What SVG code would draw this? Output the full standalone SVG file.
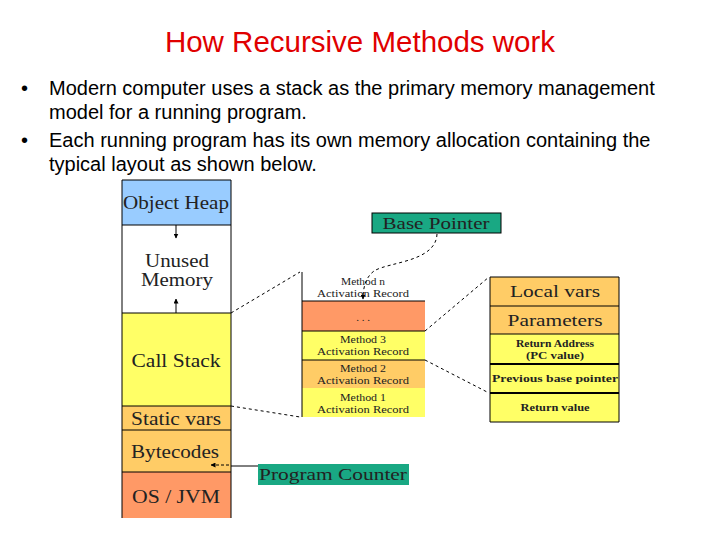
<svg xmlns="http://www.w3.org/2000/svg" width="720" height="540" viewBox="0 0 720 540">
<style>
.title{font-family:"Liberation Sans",Arial,sans-serif;font-size:29.5px;fill:#E00000}
.bul{font-family:"Liberation Sans",Arial,sans-serif;font-size:20px;fill:#000}
.big{font-family:"Liberation Serif","Times New Roman",serif;font-size:18px;fill:#222}
.mid{font-family:"Liberation Serif","Times New Roman",serif;font-size:16px;fill:#222}
.sm{font-family:"Liberation Serif","Times New Roman",serif;font-size:11px;fill:#222}
.smb{font-family:"Liberation Serif","Times New Roman",serif;font-size:11px;font-weight:bold;fill:#222}
.ln{stroke:#000;stroke-width:1;fill:none}
.dash{stroke:#000;stroke-width:1;fill:none;stroke-dasharray:3,3}
</style>
<defs>
<marker id="ah" viewBox="0 0 10 10" refX="9" refY="5" markerWidth="5" markerHeight="5" orient="auto-start-reverse">
<path d="M0,0 L10,5 L0,10 z" fill="#000"/>
</marker>
</defs>
<rect width="720" height="540" fill="#fff"/>
<text class="title" x="360" y="52" text-anchor="middle">How Recursive Methods work</text>
<g id="bullets">
<text class="bul" x="21" y="95">•</text>
<text class="bul" x="49" y="95">Modern computer uses a stack as the primary memory management</text>
<text class="bul" x="49" y="119">model for a running program.</text>
<text class="bul" x="21" y="147">•</text>
<text class="bul" x="49" y="147">Each running program has its own memory allocation containing the</text>
<text class="bul" x="49" y="171">typical layout as shown below.</text>
</g>
<g id="memory-layout">
<rect x="122" y="180" width="109" height="45" fill="#99CCFF"/>
<rect x="122" y="225" width="109" height="88" fill="#FFFFFF"/>
<rect x="122" y="313" width="109" height="93" fill="#FFFF66"/>
<rect x="122" y="406" width="109" height="24" fill="#FFCC66"/>
<rect x="122" y="430" width="109" height="42" fill="#FFCC66"/>
<rect x="122" y="472" width="109" height="46" fill="#FF9966"/>
<path class="ln" d="M122,180 V518 M231,180 V518 M122,180 H231 M122,225 H231 M122,313 H231 M122,406 H231 M122,430 H231 M122,472 H231"/>
<text class="big" x="176" y="209" text-anchor="middle" textLength="106" lengthAdjust="spacingAndGlyphs">Object Heap</text>
<text class="big" x="177" y="267" text-anchor="middle" textLength="64" lengthAdjust="spacingAndGlyphs">Unused</text>
<text class="big" x="177" y="286" text-anchor="middle" textLength="72" lengthAdjust="spacingAndGlyphs">Memory</text>
<path class="ln" d="M176,225 V238" marker-end="url(#ah)"/>
<path class="ln" d="M176,313 V299" marker-end="url(#ah)"/>
<text class="big" x="176" y="367" text-anchor="middle" textLength="89" lengthAdjust="spacingAndGlyphs">Call Stack</text>
<text class="big" x="176" y="425" text-anchor="middle" textLength="90" lengthAdjust="spacingAndGlyphs">Static vars</text>
<text class="big" x="175" y="458" text-anchor="middle" textLength="88" lengthAdjust="spacingAndGlyphs">Bytecodes</text>
<text class="big" x="176" y="503" text-anchor="middle" textLength="88" lengthAdjust="spacingAndGlyphs">OS / JVM</text>
</g>
<g id="call-stack-detail">
<rect x="302" y="301" width="123" height="30" fill="#FF9966"/>
<rect x="302" y="331" width="123" height="29" fill="#FFFF66"/>
<rect x="302" y="360" width="123" height="28" fill="#FFCC66"/>
<rect x="302" y="388" width="123" height="29" fill="#FFFF66"/>
<path class="ln" d="M302,272 V417 M302,301 H425 M302,331 H425 M302,360 H425"/>
<text class="sm" x="363" y="285" text-anchor="middle" textLength="44" lengthAdjust="spacingAndGlyphs">Method n</text>
<text class="sm" x="363" y="297" text-anchor="middle" textLength="92" lengthAdjust="spacingAndGlyphs">Activation Record</text>
<text class="sm" x="363" y="321" text-anchor="middle">. . .</text>
<text class="sm" x="363" y="343" text-anchor="middle" textLength="46" lengthAdjust="spacingAndGlyphs">Method 3</text>
<text class="sm" x="363" y="355" text-anchor="middle" textLength="92" lengthAdjust="spacingAndGlyphs">Activation Record</text>
<text class="sm" x="363" y="372" text-anchor="middle" textLength="46" lengthAdjust="spacingAndGlyphs">Method 2</text>
<text class="sm" x="363" y="384" text-anchor="middle" textLength="92" lengthAdjust="spacingAndGlyphs">Activation Record</text>
<text class="sm" x="363" y="401" text-anchor="middle" textLength="46" lengthAdjust="spacingAndGlyphs">Method 1</text>
<text class="sm" x="363" y="413" text-anchor="middle" textLength="92" lengthAdjust="spacingAndGlyphs">Activation Record</text>
</g>
<g id="activation-record">
<rect x="490" y="277" width="129" height="29" fill="#FFCC66"/>
<rect x="490" y="306" width="129" height="28" fill="#FFCC66"/>
<rect x="490" y="334" width="129" height="88" fill="#FFFF66"/>
<path class="ln" d="M490,277 H619 V422 H490 Z M490,306 H619 M490,334 H619"/>
<path d="M490,364 H619 M490,393 H619" stroke="#000" stroke-width="1.8"/>
<text class="mid" x="555" y="297" text-anchor="middle" textLength="90" lengthAdjust="spacingAndGlyphs">Local vars</text>
<text class="mid" x="555" y="326" text-anchor="middle" textLength="95" lengthAdjust="spacingAndGlyphs">Parameters</text>
<text class="smb" x="555" y="347" text-anchor="middle" textLength="78" lengthAdjust="spacingAndGlyphs">Return Address</text>
<text class="smb" x="555" y="359" text-anchor="middle" textLength="58" lengthAdjust="spacingAndGlyphs">(PC value)</text>
<text class="smb" x="555" y="382" text-anchor="middle" textLength="126" lengthAdjust="spacingAndGlyphs">Previous base pointer</text>
<text class="smb" x="555" y="411" text-anchor="middle" textLength="69" lengthAdjust="spacingAndGlyphs">Return value</text>
</g>
<g id="base-pointer">
<rect x="372" y="213" width="129" height="20" fill="#19A883" stroke="#000" stroke-width="1"/>
<text class="mid" x="436" y="229" text-anchor="middle" textLength="107" lengthAdjust="spacingAndGlyphs">Base Pointer</text>
</g>
<g id="program-counter">
<rect x="258" y="464" width="151" height="21" fill="#19A883"/>
<text class="mid" x="333" y="480" text-anchor="middle" textLength="148" lengthAdjust="spacingAndGlyphs">Program Counter</text>
</g>
<g id="connectors">
<path class="dash" d="M231,313 L300,272"/>
<path class="dash" d="M231,406 L300,417"/>
<path class="dash" d="M425,331 L489,277"/>
<path class="dash" d="M425,360 L489,393"/>
<path class="dash" d="M437,234 C436,262 388,262 374,271 C366,277 363,287 363,299" marker-end="url(#ah)"/>
<path class="ln" d="M258,466 H231"/>
<path d="M229,465 H211" stroke="#000" stroke-width="1" stroke-dasharray="3,2" fill="none" marker-end="url(#ah)"/>
</g>
</svg>
